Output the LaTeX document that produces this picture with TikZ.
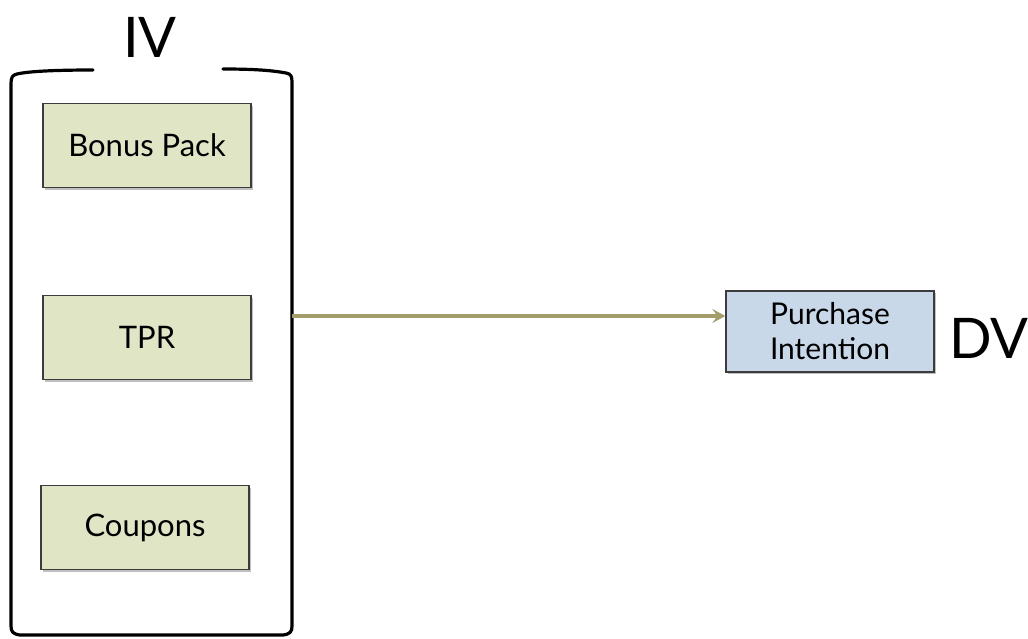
\documentclass[tikz,border=0pt]{standalone}
\usepackage{fontspec}
\setmainfont{Lato}
\usetikzlibrary{shadows,arrows.meta}
\definecolor{ivfill}{HTML}{DFE5C5}
\definecolor{dvfill}{HTML}{C9D8E8}
\definecolor{boxline}{HTML}{3C3C3C}
\definecolor{arrowcol}{HTML}{A39D6C}
\tikzset{
  factor/.style={draw=boxline, line width=1.3pt, fill=ivfill, minimum width=208pt, minimum height=84pt,
    inner sep=0pt, font=\fontsize{31}{34}\selectfont,
    drop shadow={shadow xshift=1.5pt, shadow yshift=-2pt, opacity=0.25, fill=black}},
  outcome/.style={factor, fill=dvfill, minimum height=81pt, align=center, font=\fontsize{30}{35}\selectfont},
  tag/.style={font=\fontsize{56}{60}\selectfont, inner sep=0pt},
  bracket/.style={line width=3.2pt, line join=round, line cap=round},
  link/.style={draw=arrowcol, line width=3.6pt, -{Stealth[length=13pt,width=14pt,inset=5pt]}}
}
\begin{document}
\begin{tikzpicture}[x=1pt,y=-1pt]
\useasboundingbox (0,0) rectangle (1028,638);
% grouping bracket around the independent variables
\draw[bracket] (93,70) .. controls (60,70) and (30,71) .. (17,74)
  .. controls (12,75) and (11,78) .. (11,84) -- (11,626)
  .. controls (11,632) and (13,634) .. (20,635) -- (283,635)
  .. controls (290,634) and (292,632) .. (292,626) -- (292,82)
  .. controls (292,76) and (291,74) .. (286,73)
  .. controls (270,70) and (250,69) .. (223,69);
\coordinate (bracketR) at (292,316);
\node[tag] (iv) at (150,37) {IV};
\node[factor] (bonus) at (147,145.5) {Bonus Pack};
\node[factor] (tpr) at (147,337.5) {TPR};
\node[factor] (coupons) at (145,527.5) {Coupons};
\node[outcome] (pi) at (830,331.5) {Purchase\\Intention};
\node[tag, anchor=west] (dv) at (949,338) {DV};
\draw[link] (bracketR) -- (bracketR -| pi.west);
\end{tikzpicture}
\end{document}
